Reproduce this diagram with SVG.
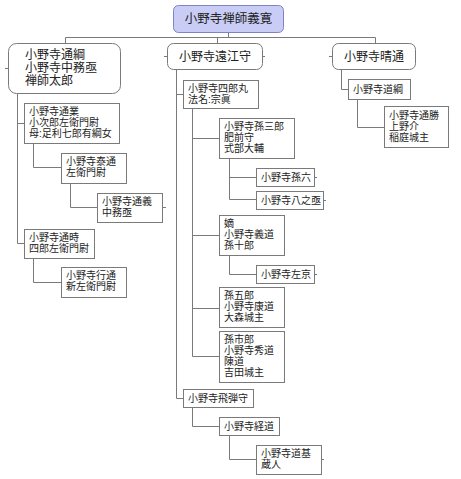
<svg xmlns="http://www.w3.org/2000/svg" width="461" height="479" viewBox="0 0 461 479">
<style>
text{font-family:"Liberation Sans","Noto Sans CJK JP",sans-serif;fill:#222}
.s{font-size:10px}
.m{font-size:12px}
.r{font-size:12.5px}
.b{fill:#fff;stroke:#7a7a7a;stroke-width:1}
.rb{fill:#fff;stroke:#7a7a7a;stroke-width:1}
.root{fill:#c9cdf6;stroke:#7d83c4;stroke-width:1}
.c{fill:none;stroke:#7a7a7a;stroke-width:1}
</style>
<rect width="461" height="479" fill="#fff"/>
<g id="connectors">
<path class="c" d="M228.5 32V37.5M65.5 37.5H375.5M65.5 37.5V43M217.5 37.5V43M375.5 37.5V43"/>
<path class="c" d="M17.5 93V243.5H24M17.5 123.5H24"/>
<path class="c" d="M33.5 143V167.5H61"/>
<path class="c" d="M70.5 183V207.5H97"/>
<path class="c" d="M33.5 258V282.5H61"/>
<path class="c" d="M176.5 69V398.5H183M176.5 94.5H183"/>
<path class="c" d="M192.5 108V356.5H219M192.5 138.5H219M192.5 235.5H219M192.5 308.5H219"/>
<path class="c" d="M229.5 158V199.5H256M229.5 177.5H256"/>
<path class="c" d="M229.5 255V274.5H256"/>
<path class="c" d="M192.5 407V426.5H219"/>
<path class="c" d="M229.5 435V459.5H256"/>
<path class="c" d="M341.5 69V89.5H348"/>
<path class="c" d="M357.5 99V127.5H384"/>
<path class="c" d="M5 68.5H8M164 56.5H167M262 56.5H265M329 56.5H332M162 207.5H166M314 177.5H317M323 200.5H326M314 274.5H317M321 459.5H324"/>
</g>
<g id="root"><rect class="root" x="173.5" y="5.5" width="110" height="27" rx="5"/><text class="r" x="228.5" y="23" text-anchor="middle">小野寺禅師義寛</text></g>
<g id="n_michitsuna"><rect class="rb" x="8.5" y="43.5" width="112" height="50" rx="8"/><text class="m" x="25" y="59">小野寺通綱</text><text class="m" x="25" y="72">小野寺中務亟</text><text class="m" x="25" y="85">禅師太郎</text></g>
<g id="n_totomi"><rect class="rb" x="167.5" y="43.5" width="95" height="26" rx="6"/><text class="m" x="215" y="60.5" text-anchor="middle">小野寺遠江守</text></g>
<g id="n_harumichi"><rect class="rb" x="332.5" y="43.5" width="83" height="26" rx="6"/><text class="m" x="374" y="60.5" text-anchor="middle">小野寺晴通</text></g>
<g id="n_michinari"><rect class="b" x="24.5" y="103.5" width="95" height="40"/><text class="s" x="29" y="115">小野寺通業</text><text class="s" x="29" y="126">小次郎左衛門尉</text><text class="s" x="29" y="137">母:足利七郎有綱女</text></g>
<g id="n_yasumichi"><rect class="b" x="61.5" y="153.5" width="65" height="30"/><text class="s" x="66" y="165">小野寺泰通</text><text class="s" x="66" y="176">左衛門尉</text></g>
<g id="n_michiyoshi"><rect class="b" x="97.5" y="193.5" width="65" height="29"/><text class="s" x="102" y="205">小野寺通義</text><text class="s" x="102" y="216">中務亟</text></g>
<g id="n_michitoki"><rect class="b" x="24.5" y="229.5" width="70" height="29"/><text class="s" x="29" y="241">小野寺通時</text><text class="s" x="29" y="252">四郎左衛門尉</text></g>
<g id="n_yukimichi"><rect class="b" x="61.5" y="267.5" width="65" height="30"/><text class="s" x="66" y="279">小野寺行通</text><text class="s" x="66" y="290">新左衛門尉</text></g>
<g id="n_shiromaru"><rect class="b" x="183.5" y="80.5" width="75" height="28"/><text class="s" x="188" y="92">小野寺四郎丸</text><text class="s" x="188" y="103">法名:宗眞</text></g>
<g id="n_magosaburo"><rect class="b" x="219.5" y="118.5" width="75" height="40"/><text class="s" x="224" y="130">小野寺孫三郎</text><text class="s" x="224" y="141">肥前守</text><text class="s" x="224" y="152">式部大輔</text></g>
<g id="n_magoroku"><rect class="b" x="256.5" y="168.5" width="58" height="18"/><text class="s" x="261" y="181">小野寺孫六</text></g>
<g id="n_hachinojo"><rect class="b" x="256.5" y="191.5" width="67" height="18"/><text class="s" x="261" y="204">小野寺八之亟</text></g>
<g id="n_yoshimichi"><rect class="b" x="219.5" y="215.5" width="65" height="40"/><text class="s" x="224" y="227">嫡</text><text class="s" x="224" y="238">小野寺義道</text><text class="s" x="224" y="249">孫十郎</text></g>
<g id="n_sakyo"><rect class="b" x="256.5" y="265.5" width="58" height="18"/><text class="s" x="261" y="278">小野寺左京</text></g>
<g id="n_yasumichi2"><rect class="b" x="219.5" y="287.5" width="65" height="40"/><text class="s" x="224" y="299">孫五郎</text><text class="s" x="224" y="310">小野寺康道</text><text class="s" x="224" y="321">大森城主</text></g>
<g id="n_hidemichi"><rect class="b" x="219.5" y="331.5" width="65" height="51"/><text class="s" x="224" y="343">孫市郎</text><text class="s" x="224" y="354">小野寺秀道</text><text class="s" x="224" y="365">陳道</text><text class="s" x="224" y="376">吉田城主</text></g>
<g id="n_hida"><rect class="b" x="183.5" y="389.5" width="70" height="18"/><text class="s" x="188" y="402">小野寺飛弾守</text></g>
<g id="n_tsunemichi"><rect class="b" x="219.5" y="417.5" width="60" height="18"/><text class="s" x="224" y="430">小野寺経道</text></g>
<g id="n_michimoto"><rect class="b" x="256.5" y="445.5" width="65" height="29"/><text class="s" x="261" y="457">小野寺道基</text><text class="s" x="261" y="468">蔵人</text></g>
<g id="n_michitsuna2"><rect class="b" x="348.5" y="79.5" width="62" height="20"/><text class="s" x="353" y="93">小野寺道綱</text></g>
<g id="n_michikatsu"><rect class="b" x="384.5" y="106.5" width="64" height="41"/><text class="s" x="389" y="119">小野寺通勝</text><text class="s" x="389" y="130">上野介</text><text class="s" x="389" y="141">稲庭城主</text></g>
</svg>
